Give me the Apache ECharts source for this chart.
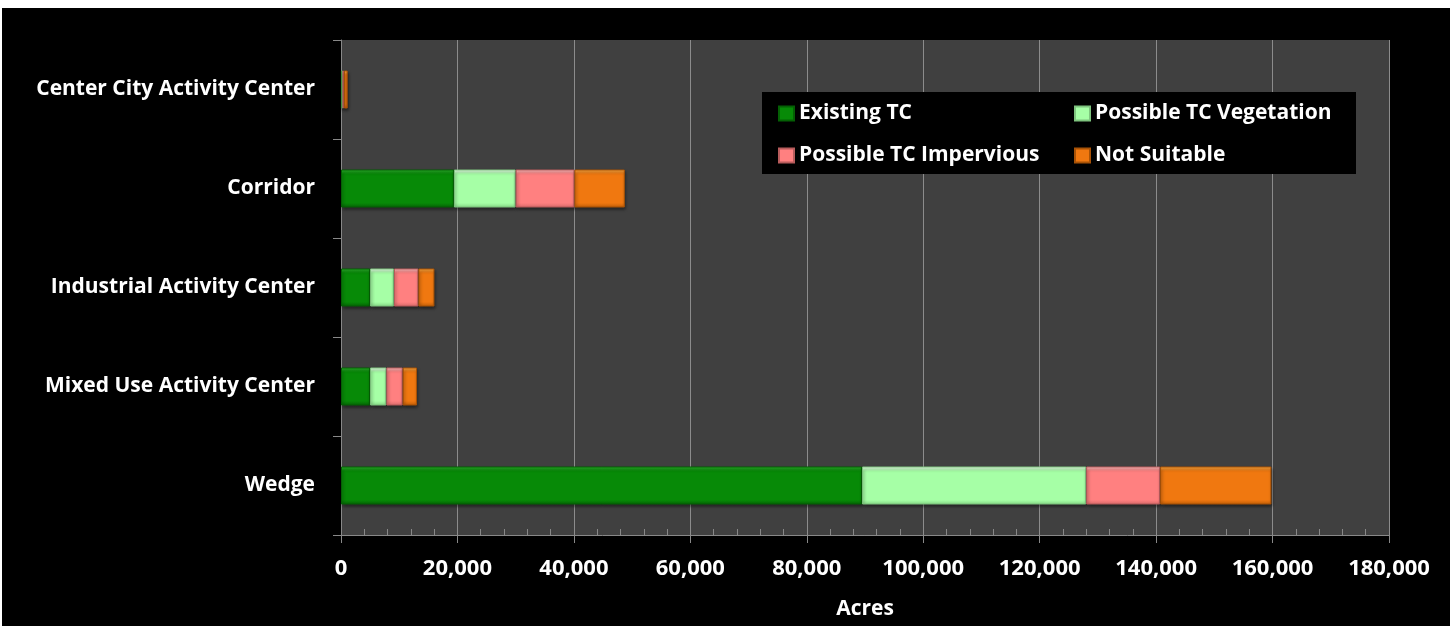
<!DOCTYPE html>
<html>
<head>
<meta charset="utf-8">
<script src="https://cdn.jsdelivr.net/npm/echarts@6/dist/echarts.min.js"></script>
<style>
html,body{margin:0;padding:0;background:#fff;}
#wrap{position:absolute;left:2px;top:8px;width:1448px;height:618px;background:#000;}
#chart{width:1448px;height:618px;}
</style>
</head>
<body>
<div id="wrap"><div id="chart"></div></div>
<script>
const categories = ['Center City Activity Center','Corridor','Industrial Activity Center','Mixed Use Activity Center','Wedge'];
const seriesNames = ['Existing TC','Possible TC Vegetation','Possible TC Impervious','Not Suitable'];
const existingTC = [150, 19400, 5000, 5000, 89500];
const possibleVeg = [100, 10600, 4100, 2800, 38500];
const possibleImp = [250, 10100, 4200, 2800, 12700];
const notSuitable = [650, 8650, 2750, 2450, 19100];
const xTicks = {min:0, max:180000, interval:20000};

const FONT = 'Open Sans';
const styles = [
  {top:'#2fb82f', base:'#078a07', bottom:'#056305', border:'#046004'},
  {top:'#efffef', base:'#a6ffa6', bottom:'#86d886', border:'#7ec47e'},
  {top:'#ffc4c4', base:'#ff8080', bottom:'#d86a6a', border:'#b85c5c'},
  {top:'#ffae45', base:'#f07810', bottom:'#c05e08', border:'#a85206'}
];
const dataSets = [existingTC, possibleVeg, possibleImp, notSuitable];

function grad(s){
  return new echarts.graphic.LinearGradient(0,0,0,1,[
    {offset:0, color:s.top},{offset:0.12, color:s.base},
    {offset:0.88, color:s.base},{offset:1, color:s.bottom}
  ]);
}

const chart = echarts.init(document.getElementById('chart'), null, {renderer:'canvas'});
chart.setOption({
  backgroundColor:'#000',
  animation:false,
  textStyle:{fontFamily:FONT},
  grid:{left:339, top:32, width:1048, height:495, show:true, backgroundColor:'#404040', borderWidth:0, containLabel:false},
  legend:{
    data:seriesNames,
    left:760, top:84, width:580,
    backgroundColor:'#000',
    padding:[11,7,8,16],
    itemWidth:15, itemHeight:14, itemGap:21,
    icon:'rect',
    textStyle:{color:'#fff', fontSize:21, fontWeight:'bold', fontFamily:FONT, width:254, lineHeight:20}
  },
  xAxis:{
    type:'value', min:xTicks.min, max:xTicks.max, interval:xTicks.interval,
    name:'Acres', nameLocation:'middle', nameGap:64,
    nameTextStyle:{color:'#fff', fontSize:21, fontWeight:'bold', fontFamily:FONT},
    axisLine:{show:true, lineStyle:{color:'#888', width:1}},
    axisTick:{show:true, length:8, lineStyle:{color:'#888'}},
    minorTick:{show:true, splitNumber:5, length:-6, lineStyle:{color:'#888'}},
    splitLine:{show:true, lineStyle:{color:'#8c8c8c', width:1}},
    axisLabel:{color:'#fff', fontSize:22, fontWeight:'bold', margin:23, fontFamily:FONT,
      formatter:v=>v.toLocaleString('en-US')}
  },
  yAxis:{
    type:'category', data:categories, inverse:true,
    axisLine:{show:true, lineStyle:{color:'#888'}},
    axisTick:{show:true, length:8, lineStyle:{color:'#888'}},
    axisLabel:{color:'#fff', fontSize:21, fontWeight:'bold', margin:26, fontFamily:FONT, padding:[4,0,0,0]}
  },
  series: seriesNames.map((n,i)=>({
    name:n, type:'bar', stack:'total', barWidth:38,
    data:dataSets[i],
    itemStyle:{color:grad(styles[i]), borderColor:styles[i].border, borderWidth:1,
      shadowColor:'rgba(0,0,0,0.45)', shadowBlur:3, shadowOffsetX:1, shadowOffsetY:2}
  }))
});
</script>
</body>
</html>
